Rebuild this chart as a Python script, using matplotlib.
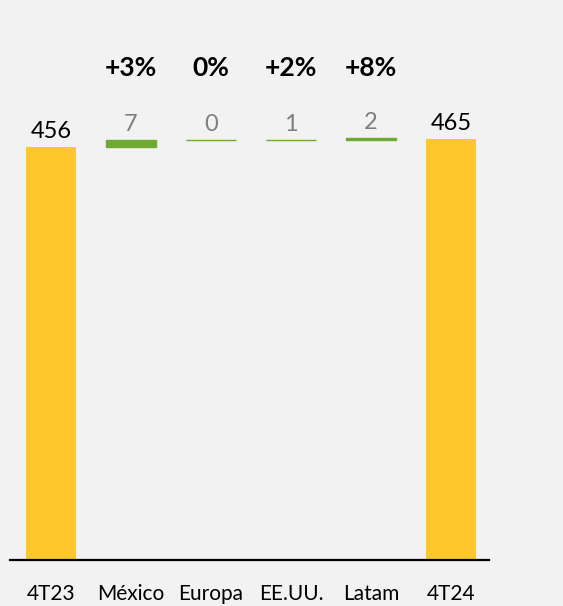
import matplotlib
matplotlib.use("Agg")
import matplotlib.pyplot as plt
import numpy as np

plt.rcParams['font.family'] = ['Lato', 'DejaVu Sans']

categories = ["4T23", "México", "Europa", "EE.UU.", "Latam", "4T24"]
start_value = 456
deltas = [7, 0, 1, 2]
end_value = 465
pct_labels = ["+3%", "0%", "+2%", "+8%"]

yellow = "#FFC72C"
green = "#6FA832"
bg = "#F2F2F2"

fig = plt.figure(figsize=(5.63, 6.06), dpi=100, facecolor=bg)
ax = fig.add_axes([10/563, 46/606, 479/563, 560/606])
ax.set_facecolor(bg)

x = np.arange(len(categories))
w = 0.625

# totals
ax.bar([x[0], x[-1]], [start_value, end_value], width=w, color=yellow, zorder=2)
ax.annotate(str(start_value), (x[0], start_value), xytext=(0, 6), textcoords="offset points",
            ha="center", va="baseline", fontsize=17, color="black")
ax.annotate(str(end_value), (x[-1], end_value), xytext=(0, 6), textcoords="offset points",
            ha="center", va="baseline", fontsize=17, color="black")

# deltas
cum = start_value
for i, d in enumerate(deltas):
    xi = x[i + 1]
    ax.bar(xi, d, bottom=cum, width=w, color=green, edgecolor=green, linewidth=1.0, zorder=2)
    ax.annotate(str(d), (xi, cum + d), xytext=(0, 6.5), textcoords="offset points",
                ha="center", va="baseline", fontsize=17, color="#7F7F7F")
    ax.text(xi, 534, pct_labels[i], ha="center", va="baseline", fontsize=19,
            fontweight="bold", color="black")
    cum += d

ax.set_xlim(-0.5125, 5.475)
ax.set_ylim(0, 618)
ax.set_xticks(x)
ax.set_xticklabels(categories, fontsize=15)
ax.tick_params(axis="x", length=0, pad=17)
ax.set_yticks([])
for s in ["top", "left", "right"]:
    ax.spines[s].set_visible(False)
ax.spines["bottom"].set_linewidth(1.6)
ax.spines["bottom"].set_color("black")

fig.savefig("out.png", dpi=100, facecolor=bg)
